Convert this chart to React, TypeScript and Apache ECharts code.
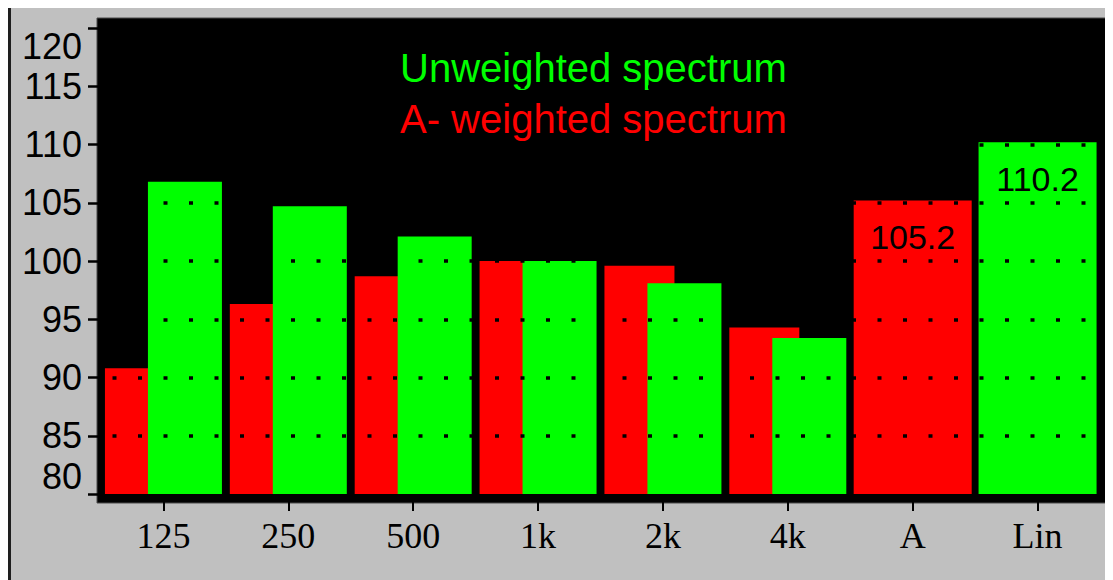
import React, { useEffect, useRef } from "react";
import * as echarts from "echarts";

const categories = ["125", "250", "500", "1k", "2k", "4k", "A", "Lin"];
const aWeightedBands = [90.8, 96.3, 98.7, 100.0, 99.6, 94.3];
const unweightedBands = [106.8, 104.7, 102.1, 100.0, 98.1, 93.4];
const aWeightedTotal = 105.2;
const unweightedTotal = 110.2;
const yMin = 80;
const yMax = 120;
const yStep = 5;

const RED = "#ff0000";
const GREEN = "#00ff00";

export default function App() {
  const ref = useRef<HTMLDivElement>(null);
  useEffect(() => {
    document.body.style.overflow = "hidden";
    const chart = echarts.init(ref.current!, undefined, { renderer: "svg" });
    const n = categories.length;
    const bandData = (vals: number[]) =>
      categories.map((_, i) => (i < vals.length ? vals[i] : null));
    const totalA = categories.map((c) => (c === "A" ? aWeightedTotal : null));
    const totalLin = categories.map((c) => (c === "Lin" ? unweightedTotal : null));
    const totalLabel = {
      show: true,
      position: "insideTop",
      distance: 20,
      color: "#000",
      fontSize: 34,
      fontFamily: "Liberation Sans",
      formatter: (p: any) => Number(p.value).toFixed(1),
    };
    chart.setOption({
      animation: false,
      backgroundColor: "#c0c0c0",
      graphic: {
        elements: [
          {
            type: "rect",
            z: -1,
            shape: { x: 89, y: 10, width: 1010, height: 485 },
            style: { fill: "#000", stroke: "#4a4a4a", lineWidth: 1 },
          },
          {
            type: "rect",
            z: -1,
            shape: { x: 0, y: 0, width: 3, height: 572 },
            style: { fill: "#1e1e1e" },
          },
        ],
      },
      legend: {
        data: [
          { name: "Unweighted spectrum", textStyle: { color: GREEN } },
          { name: "A- weighted spectrum", textStyle: { color: RED } },
        ],
        orient: "vertical",
        left: 387,
        top: 40,
        padding: 0,
        itemWidth: 0,
        itemHeight: 0,
        icon: "none",
        itemGap: 11,
        selectedMode: false,
        textStyle: { fontSize: 40, fontFamily: "Liberation Sans" },
      },
      grid: { left: 93, right: 13, top: 20, bottom: 86, containLabel: false },
      xAxis: [
        {
          type: "category",
          data: categories,
          axisLine: { show: false },
          axisTick: {
            show: true,
            alignWithLabel: true,
            length: 17,
            lineStyle: { color: "#000", width: 2 },
          },
          axisLabel: {
            color: "#000",
            fontSize: 36,
            fontFamily: "Liberation Serif",
            margin: 24,
            interval: 0,
          },
        },
        { type: "category", data: categories, show: false },
      ],
      yAxis: {
        type: "value",
        min: yMin,
        max: yMax,
        interval: yStep,
        z: 10,
        axisLine: { show: false },
        axisTick: { show: true, length: 13, lineStyle: { color: "#000", width: 2.5 } },
        axisLabel: {
          color: "#000",
          fontSize: 36,
          fontFamily: "Liberation Sans Narrow, Liberation Sans",
          margin: 19,
          verticalAlignMinLabel: "bottom",
          verticalAlignMaxLabel: "top",
        },
        splitLine: {
          show: true,
          showMinLine: false,
          showMaxLine: false,
          lineStyle: { color: "#000", width: 3.5, type: [4, 21.5], dashOffset: 13.5 },
        },
      },
      series: [
        {
          name: "A- weighted spectrum",
          type: "bar",
          xAxisIndex: 0,
          data: bandData(aWeightedBands),
          barWidth: 70,
          itemStyle: { color: RED },
          z: 2,
        },
        {
          name: "Unweighted spectrum",
          type: "bar",
          xAxisIndex: 0,
          data: bandData(unweightedBands),
          barWidth: 74,
          barGap: "-38.6%",
          itemStyle: { color: GREEN },
          z: 3,
        },
        {
          name: "A- weighted spectrum",
          type: "bar",
          xAxisIndex: 1,
          data: totalA,
          barWidth: 118,
          itemStyle: { color: RED },
          label: totalLabel,
          z: 2,
        },
        {
          name: "Unweighted spectrum",
          type: "bar",
          xAxisIndex: 1,
          data: totalLin,
          barWidth: 118,
          barGap: "-100%",
          itemStyle: { color: GREEN },
          label: totalLabel,
          z: 2,
        },
      ],
    });
    void n;
    return () => chart.dispose();
  }, []);
  return <div ref={ref} style={{ width: 1105, height: 572 }} />;
}
